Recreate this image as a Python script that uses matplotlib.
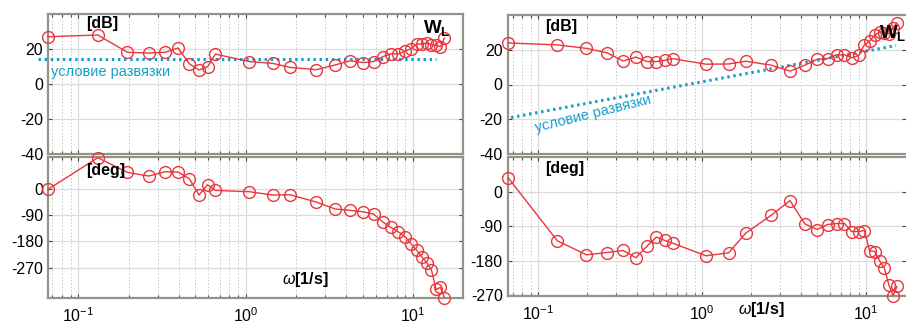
import numpy as np
import matplotlib
matplotlib.use('Agg')
from matplotlib import pyplot as plt
from matplotlib.ticker import LogLocator, NullFormatter

plt.rcParams['font.family'] = ['Liberation Sans', 'DejaVu Sans']
plt.rcParams['axes.unicode_minus'] = False
plt.rcParams['mathtext.fontset'] = 'custom'
plt.rcParams['mathtext.rm'] = 'Liberation Sans'
plt.rcParams['mathtext.it'] = 'Liberation Sans:italic'
plt.rcParams['mathtext.bf'] = 'Liberation Sans:bold'

# frequencies [1/s], shared by both experiments
w = [0.066, 0.131, 0.197, 0.264, 0.33, 0.395, 0.461, 0.527, 0.593, 0.66,
     1.055, 1.45, 1.845, 2.645, 3.435, 4.225, 5.025, 5.815, 6.6, 7.38,
     8.17, 9.0, 9.76, 10.5, 11.3, 12.15, 12.9, 13.75, 14.6, 15.4]

# left experiment
mag_left = [27.0, 28.0, 18.1, 17.7, 18.1, 20.6, 11.6, 8.0, 9.9, 17.1,
            12.8, 11.8, 9.5, 8.2, 10.9, 13.3, 12.2, 12.8, 15.6, 17.3,
            17.1, 18.9, 20.2, 22.7, 22.9, 23.4, 22.5, 22.1, 21.3, 26.3]
phase_left = [-1, 107.6, 57, 44.6, 59.5, 58.4, 35.5, -20.6, 14.9, -4.6,
              -9.2, -20.6, -19.5, -44.6, -68.7, -73.3, -77.8, -85.9, -113, -131.7,
              -146.5, -164.9, -188.9, -209.5, -232.5, -255.4, -278, -344.7, -337.7, -373]
cond_left_w = [0.0574, 13.8]
cond_left_db = [14.5, 14.5]

# right experiment
mag_right = [23.9, 22.8, 20.8, 18.2, 13.5, 15.8, 13.2, 13.2, 13.9, 14.9,
             11.7, 11.8, 13.4, 11.1, 7.7, 11.1, 14.5, 14.9, 17.1, 17.1,
             15.4, 16.7, 22.8, 25.0, 28.4, 30.4, 29.7, 29.0, 32.7, 35.3]
phase_right = [35.7, -127.8, -164.4, -158.4, -153.1, -172.2, -141.7, -118.2, -127, -133.8,
               -167, -159.2, -107.8, -60.8, -22.7, -83.5, -98.4, -85.3, -82.7, -82.7,
               -103.6, -103.6, -101, -154, -155.8, -181.9, -199, -242.6, -271.3, -247]
cond_right_w = [0.0684, 15.2]
cond_right_db = [-19.0, 22.4]

cond_label = 'условие развязки'
w_label = r'$\omega\mathbf{[1/s]}$'
wl_label = r'$\mathbf{W}_\mathbf{L}$'

RED = '#e8363c'
CYAN = '#14a0cc'
SPINE = '#959289'

FW, FH = 906, 325


def px_axes(fig, x0, x1, top, bottom):
    return fig.add_axes([x0 / FW, (FH - bottom) / FH, (x1 - x0) / FW, (bottom - top) / FH])


def style(ax, xlim, ylim, yticks, show_x):
    ax.set_xscale('log')
    ax.set_xlim(xlim)
    ax.set_ylim(ylim)
    ax.set_yticks(yticks)
    ax.xaxis.set_major_locator(LogLocator(base=10, numticks=10))
    ax.xaxis.set_minor_locator(LogLocator(base=10, subs=np.arange(2, 10), numticks=10))
    ax.xaxis.set_minor_formatter(NullFormatter())
    ax.grid(True, which='major', color='#dcdcdc', lw=0.9)
    ax.grid(True, which='minor', axis='x', color='#c8c8c8', lw=0.7, ls=(0, (1.5, 2)))
    ax.set_axisbelow(True)
    ax.tick_params(which='both', direction='in', top=True, right=True,
                   color='#444444', labelsize=11.5, length=3, width=0.8)
    ax.tick_params(which='minor', length=2)
    ax.tick_params(axis='x', pad=6)
    if not show_x:
        ax.tick_params(axis='x', labelbottom=False)
    for s in ax.spines.values():
        s.set_color(SPINE)
        s.set_linewidth(1.6)


def plot_data(ax, y):
    ax.plot(w, y, color=RED, lw=1.0, marker='o', ms=8.5, mfc='none', mec=RED,
            mew=1.0, clip_on=False, zorder=5)


fig = plt.figure(figsize=(FW / 100, FH / 100), dpi=100)

# left panel
xl = (0.066, 19.9)
ax1 = px_axes(fig, 48, 463, 14, 154)
style(ax1, xl, (-40, 40), [-40, -20, 0, 20], False)
plot_data(ax1, mag_left)
ax1.plot(cond_left_w, cond_left_db, color=CYAN, lw=2.2, ls=(0, (0.8, 1.2)), clip_on=False, zorder=4)
ax1.text(0.0685, 7.0, cond_label, color=CYAN, fontsize=10.5, va='center', ha='left')
ax1.text(0.1116, 34.6, '[dB]', fontsize=11.5, fontweight='bold', va='center', ha='left', zorder=6)
ax1.text(11.4, 32.0, wl_label, fontsize=13.5, va='center', ha='left', zorder=6)

ax2 = px_axes(fig, 48, 463, 157, 298)
style(ax2, xl, (-374, 110), [-270, -180, -90, 0], True)
plot_data(ax2, phase_left)
ax2.text(0.1116, 62, '[deg]', fontsize=11.5, fontweight='bold', va='center', ha='left', zorder=6)
ax2.text(1.65, -310, w_label, fontsize=11.5, va='center', ha='left')

# right panel
xr = (0.0651, 17.5)
ax3 = px_axes(fig, 507.5, 906, 15, 154)
style(ax3, xr, (-40, 40), [-40, -20, 0, 20], False)
ax3.spines['right'].set_visible(False)
plot_data(ax3, mag_right)
ax3.plot(cond_right_w, cond_right_db, color=CYAN, lw=2.2, ls=(0, (0.8, 1.2)), zorder=4)
ax3.text(0.097, -27.5, cond_label, color=CYAN, fontsize=10.5, rotation=14,
         rotation_mode='anchor', va='baseline', ha='left')
ax3.text(0.1104, 33.6, '[dB]', fontsize=11.5, fontweight='bold', va='center', ha='left', zorder=6)
ax3.text(11.9, 29.5, wl_label, fontsize=13.5, va='center', ha='left', zorder=6)

ax4 = px_axes(fig, 507.5, 906, 157, 296)
style(ax4, xr, (-272, 91), [-270, -180, -90, 0], True)
ax4.spines['right'].set_visible(False)
plot_data(ax4, phase_right)
ax4.text(0.1104, 62, '[deg]', fontsize=11.5, fontweight='bold', va='center', ha='left', zorder=6)
ax4.text(1.66, -306, w_label, fontsize=11.5, va='center', ha='left', clip_on=False)

fig.savefig('out.png', dpi=100)
